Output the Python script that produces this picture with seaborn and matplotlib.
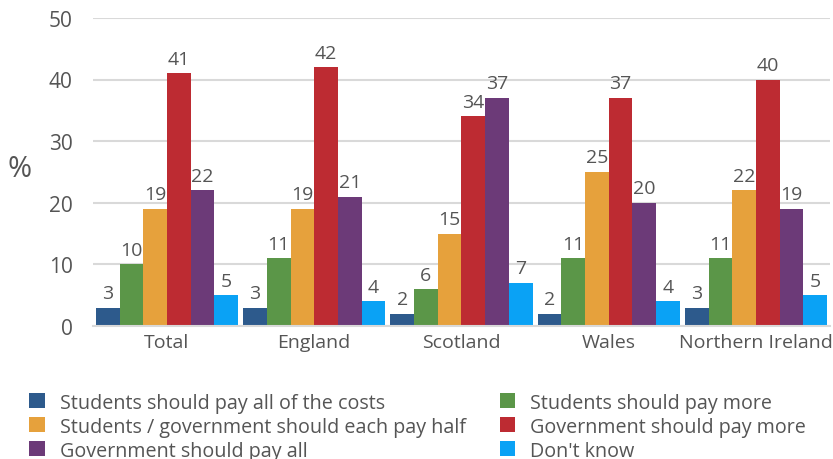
import matplotlib
matplotlib.use("Agg")
import matplotlib.pyplot as plt
import seaborn as sns
import pandas as pd

regions = ["Total", "England", "Scotland", "Wales", "Northern Ireland"]
answers = ["Students should pay all of the costs", "Students should pay more",
           "Students / government should each pay half", "Government should pay more",
           "Government should pay all", "Don't know"]
pay_all_costs = [3, 3, 2, 2, 3]
pay_more_students = [10, 11, 6, 11, 11]
pay_half = [19, 19, 15, 25, 22]
gov_pay_more = [41, 42, 34, 37, 40]
gov_pay_all = [22, 21, 37, 20, 19]
dont_know = [5, 4, 7, 4, 5]
series = [pay_all_costs, pay_more_students, pay_half, gov_pay_more, gov_pay_all, dont_know]
colors = ["#2D5A8C", "#5B9648", "#E6A13C", "#BD2B32", "#6C3A78", "#0AA2F5"]

rows = []
for ans, vals in zip(answers, series):
    for reg, v in zip(regions, vals):
        rows.append({"Region": reg, "Answer": ans, "Value": v})
df = pd.DataFrame(rows)

sns.set_theme(style="white")
plt.rcParams['font.family'] = ['Open Sans', 'DejaVu Sans']
text_color = "#555555"

fig = plt.figure(figsize=(8.33, 4.6), dpi=100)
ax = fig.add_axes([0.112, 0.289, 0.884, 0.670])
sns.barplot(data=df, x="Region", y="Value", hue="Answer", hue_order=answers,
            order=regions, palette=colors, width=0.965, saturation=1,
            ax=ax, legend=True, linewidth=0)

for cont in ax.containers:
    ax.bar_label(cont, fmt="%d", padding=4, fontsize=14, color=text_color)

ax.set_ylim(0, 50)
ax.set_yticks([0, 10, 20, 30, 40, 50])
ax.set_xlim(-0.5, 4.5)
ax.yaxis.grid(True, color="#d9d9d9", linewidth=1.5)
ax.set_axisbelow(True)
for s in ["top", "right", "left"]:
    ax.spines[s].set_visible(False)
ax.spines["bottom"].set_color("#d9d9d9")
ax.spines["bottom"].set_linewidth(1.5)
ax.tick_params(axis="y", length=0, labelsize=15, labelcolor=text_color, pad=15)
ax.tick_params(axis="x", length=0, labelsize=14, labelcolor=text_color, pad=5)
ax.set_xlabel("")
ax.set_ylabel("%", rotation=0, fontsize=21, color=text_color, va="center", ha="center")
ax.yaxis.set_label_coords(-0.1, 0.51)

handles, labels = ax.get_legend_handles_labels()
ax.legend_.remove()
order = [0, 2, 4, 1, 3, 5]
fig.legend([handles[i] for i in order], [labels[i] for i in order],
           loc="lower left", bbox_to_anchor=(0.014, -0.042), ncol=2, frameon=False,
           fontsize=14.2, labelcolor=text_color, handlelength=0.8, handleheight=0.8,
           handletextpad=0.75, columnspacing=1.7, labelspacing=0.2)

fig.savefig("out.png", dpi=100)
